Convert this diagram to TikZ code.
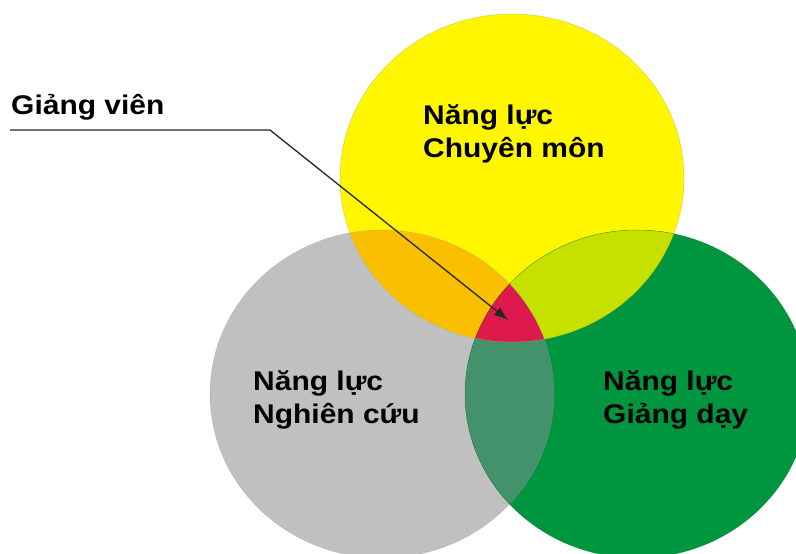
\documentclass[tikz,border=0pt]{standalone}
\usepackage{fontspec}
\setmainfont{Liberation Sans}
\newfontfamily\labfont[FakeStretch=1.11]{Liberation Sans}
\usetikzlibrary{arrows.meta}
\definecolor{cyel}{RGB}{255,246,0}
\definecolor{cgray}{RGB}{192,192,192}
\definecolor{cgreen}{RGB}{0,150,64}
\definecolor{corange}{RGB}{250,192,0}
\definecolor{cyg}{RGB}{198,224,0}
\definecolor{cteal}{RGB}{68,146,108}
\definecolor{cred}{RGB}{222,26,76}
\tikzset{
  lab/.style={inner sep=0pt, align=left, anchor=west,
    font=\labfont\bfseries\fontsize{27}{33}\selectfont},
  pointer/.style={draw=black!85, line width=1.3pt},
}
\begin{document}
\begin{tikzpicture}[x=1pt,y=-1pt]
\useasboundingbox[fill=white] (0,0) rectangle (796,554);
\def\ey{(512,178) ellipse [x radius=172pt, y radius=164pt]}
\def\eg{(382,394) ellipse [x radius=172pt, y radius=164pt]}
\def\en{(637,394) ellipse [x radius=172pt, y radius=164pt]}
% base circles
\fill[cgray] \eg;
\fill[cyel] \ey;
\fill[cgreen] \en;
% pairwise overlaps
\begin{scope}
  \clip \ey;
  \fill[corange] \eg;
  \fill[cyg] \en;
\end{scope}
\begin{scope}
  \clip \eg;
  \fill[cteal] \en;
\end{scope}
% triple overlap
\begin{scope}
  \clip \ey;
  \clip \eg;
  \fill[cred] \en;
\end{scope}
% faint outlines
\draw[olive!70, line width=0.5pt, opacity=0.5] \ey;
\draw[gray!80, line width=0.5pt, opacity=0.4] \eg;
\draw[green!40!black, line width=0.5pt, opacity=0.4] \en;
% labels
\node[lab] (ylab) at (423,134) {Năng lực\\Chuyên môn};
\node[lab] (glab) at (253,400) {Năng lực\\Nghiên cứu};
\node[lab] (nlab) at (603,400) {Năng lực\\Giảng dạy};
\node[lab] (gv) at (11,107) {Giảng viên};
% pointer
\coordinate (p0) at (10,130);
\coordinate (p1) at (270,130);
\coordinate (tip) at (508,320);
\draw[pointer, -{Latex[length=14pt,width=10pt]}] (p0) -- (p1) -- (tip);
\end{tikzpicture}
\end{document}
